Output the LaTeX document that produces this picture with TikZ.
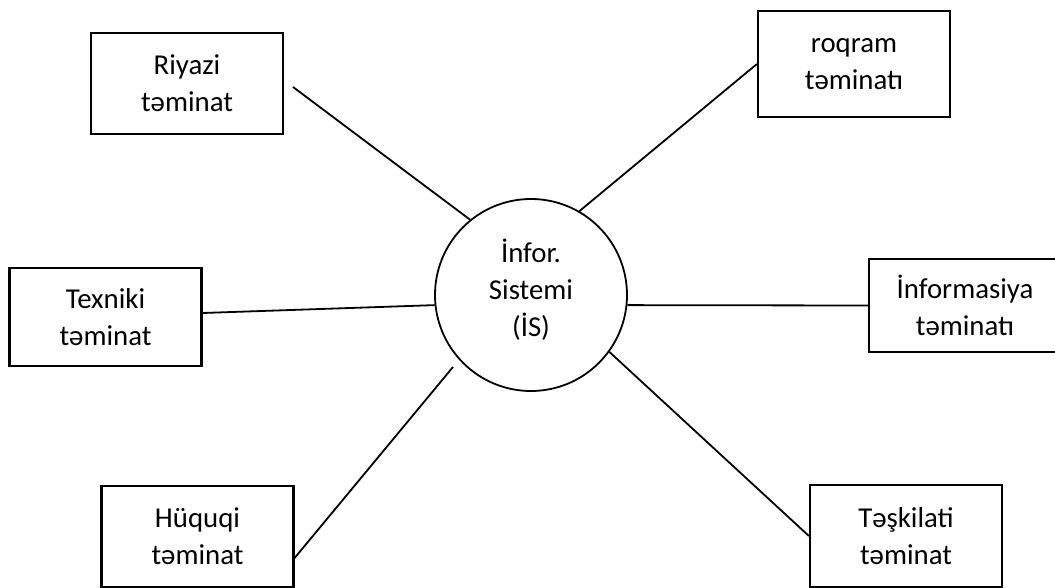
\documentclass[tikz,border=0pt]{standalone}
\usepackage{fontspec}
\setmainfont{Carlito}
\usetikzlibrary{positioning}
\begin{document}
\begin{tikzpicture}[x=0.5pt,y=-0.5pt,
  every node/.style={font=\fontsize{14.4}{18.5}\selectfont},
  tbox/.style={draw,line width=1.1pt,minimum width=96pt,inner sep=0pt,align=center},
  hub/.style={draw,circle,line width=0.9pt,minimum size=96pt,inner sep=0pt,align=center},
  link/.style={line width=0.9pt}]
  \useasboundingbox (0,0) rectangle (1055,588);
  % centre and the six kinds of support
  \node[hub,text depth=7.5pt] (is) at (531,295) {İnfor.\\Sistemi\\(İS)};
  \node[tbox,minimum height=50.5pt] (riy) at (187,83.5) {Riyazi\\təminat};
  \node[tbox,minimum height=53pt] (prog) at (854,64) {roqram\\təminatı};
  \node[tbox,minimum height=49pt] (tex) at (105.5,317) {Texniki\\təminat};
  \node[tbox,minimum height=46.5pt] (inf) at (965,305.5) {İnformasiya\\təminatı};
  \node[tbox,minimum height=50.5pt] (huq) at (197.5,536.5) {Hüquqi\\təminat};
  \node[tbox,minimum height=51pt] (tas) at (906,536) {Təşkilati\\təminat};
  % connectors
  \coordinate (riyEnd) at (293,87);
  \coordinate (huqEnd) at (453,367);
  \draw[link] (riyEnd) -- (is.129);
  \draw[link] (is.60) -- (prog.west);
  \draw[link] ([yshift=2pt]tex.east) -- (is.186.6);
  \draw[link] (is.-6.6) -- (inf.west);
  \draw[link] ([yshift=-10.75pt]huq.east) -- (huqEnd);
  \draw[link] (is.-36.5) -- (tas.west);
\end{tikzpicture}
\end{document}
